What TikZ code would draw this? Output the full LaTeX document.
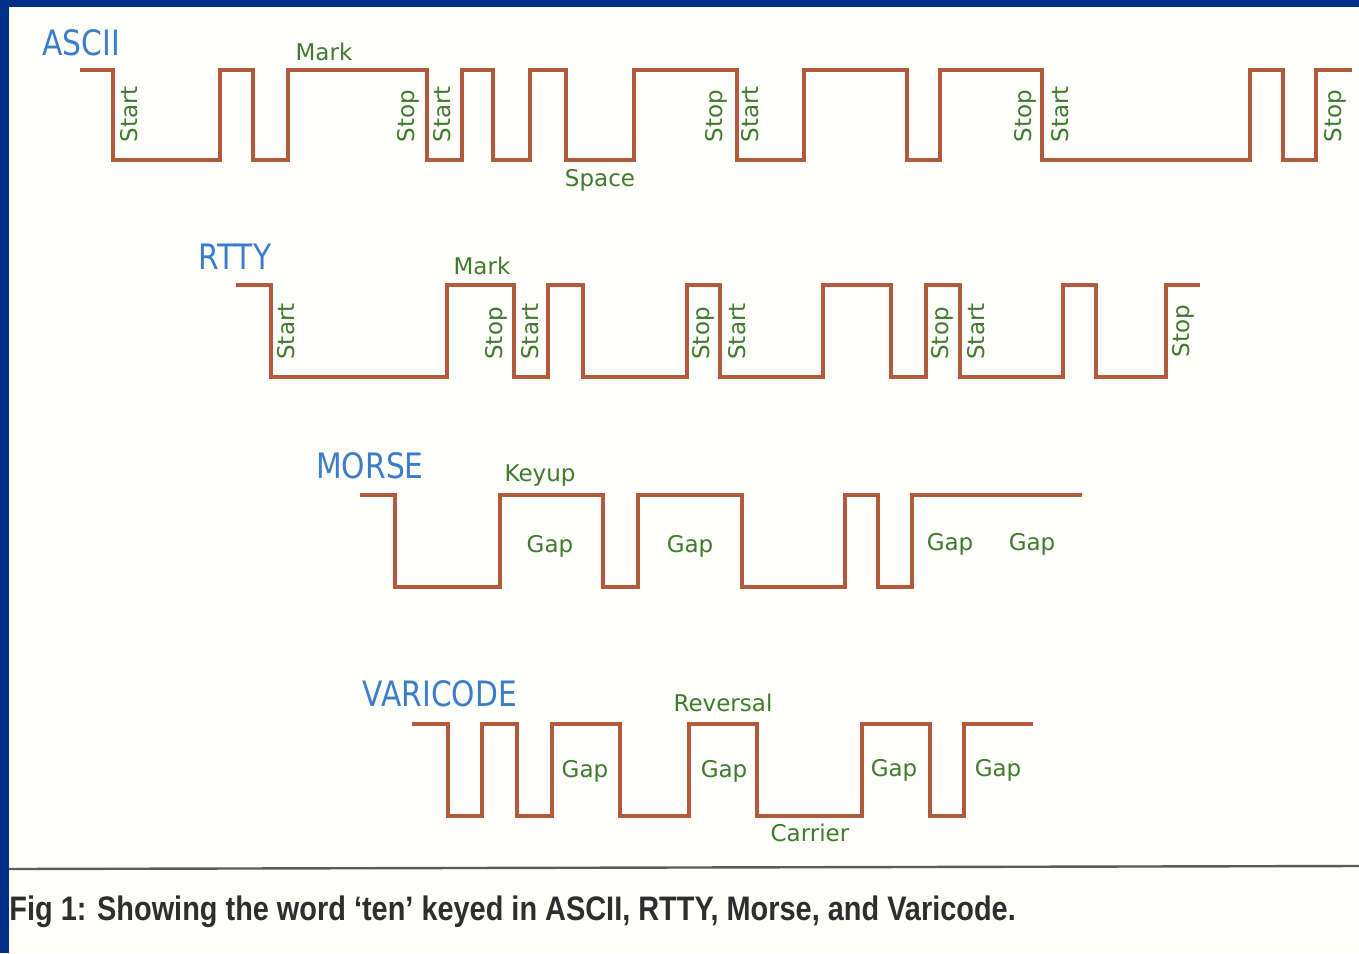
\documentclass[tikz,border=0pt]{standalone}
\usepackage{fontspec}
\setmainfont{DejaVu Sans}
\newfontfamily\titlefont[FakeStretch=0.85]{DejaVu Sans}
\newfontfamily\capfont[FakeStretch=0.85]{Liberation Sans}
\usepackage{xcolor}
\definecolor{Frame}{HTML}{00308A}
\definecolor{Paper}{HTML}{FEFEFB}
\definecolor{Wave}{HTML}{B35A3C}
\definecolor{Tag}{HTML}{3F7A2E}
\definecolor{Heading}{HTML}{3C7DC9}
\definecolor{Rule}{HTML}{5A5A5A}
\definecolor{Caption}{HTML}{2E2E2E}

\begin{document}
\begin{tikzpicture}[x=0.5pt,y=-0.5pt]
  \tikzset{
    wave/.style={Wave, line width=2pt, line join=miter},
    heading/.style={font=\titlefont\fontsize{17.5}{20}\selectfont, text=Heading, inner sep=0pt},
    tag/.style={font=\fontsize{11.5}{13}\selectfont, text=Tag, inner sep=0pt},
    uptag/.style={tag, rotate=90, anchor=west, text height=8.5pt, text depth=2.2pt},
    figcaption/.style={font=\capfont\bfseries\fontsize{17}{20}\selectfont, text=Caption, inner sep=0pt, anchor=west}
  }

  \useasboundingbox (0,0) rectangle (1359,953);
  \fill[Paper] (0,0) rectangle (1359,953);
  \fill[Frame] (0,0) rectangle (1359,7);
  \fill[Frame] (0,0) rectangle (9,953);

  \node[heading] (ascii) at (81,43) {ASCII};
  \draw[wave] (80,70) -| (113,160) -| (220,70) -| (253,160) -| (288,70) -| (427,160)
    -| (462,70) -| (493,160) -| (530,70) -| (566,160) -| (634,70) -| (737,160)
    -| (804,70) -| (907,160) -| (940,70) -| (1042,160) -| (1250,70) -| (1283,160)
    -| (1316,70) -- (1352,70);
  \node[tag] (asciimark) at (324,52) {Mark};
  \node[tag] (asciispace) at (600,180) {Space};
  \node[uptag] (asciistart1) at (131,143) {Start};
  \node[uptag] (asciistop1) at (408,143) {Stop};
  \node[uptag] (asciistart2) at (444,143) {Start};
  \node[uptag] (asciistop2) at (716,143) {Stop};
  \node[uptag] (asciistart3) at (752,143) {Start};
  \node[uptag] (asciistop3) at (1025,143) {Stop};
  \node[uptag] (asciistart4) at (1062,143) {Start};
  \node[uptag] (asciistop4) at (1335,143) {Stop};

  \node[heading] (rtty) at (235,257) {RTTY};
  \draw[wave] (236,285) -| (271,377) -| (447,285) -| (514,377) -| (548,285) -| (583,377)
    -| (687,285) -| (720,377) -| (823,285) -| (891,377) -| (926,285) -| (960,377)
    -| (1063,285) -| (1096,377) -| (1166,285) -- (1200,285);
  \node[tag] (rttymark) at (482,266) {Mark};
  \node[uptag] (rttystart1) at (288,360) {Start};
  \node[uptag] (rttystop1) at (496,360) {Stop};
  \node[uptag] (rttystart2) at (532,360) {Start};
  \node[uptag] (rttystop2) at (703,360) {Stop};
  \node[uptag] (rttystart3) at (739,360) {Start};
  \node[uptag] (rttystop3) at (942,360) {Stop};
  \node[uptag] (rttystart4) at (978,360) {Start};
  \node[uptag] (rttystop4) at (1183,358) {Stop};

  \node[heading] (morse) at (370,466) {MORSE};
  \draw[wave] (360,495) -| (395,587) -| (500,495) -| (603,587) -| (638,495) -| (742,587)
    -| (845,495) -| (878,587) -| (912,495) -- (1082,495);
  \node[tag] (morsekeyup) at (540,476) {Keyup};
  \node[tag] (morsegap1) at (550,546) {Gap};
  \node[tag] (morsegap2) at (690,546) {Gap};
  \node[tag] (morsegap3) at (950,544) {Gap};
  \node[tag] (morsegap4) at (1032,544) {Gap};

  \node[heading] (varicode) at (440,694) {VARICODE};
  \draw[wave] (412,724) -| (448,816) -| (482,724) -| (517,816) -| (552,724) -| (620,816)
    -| (689,724) -| (757,816) -| (862,724) -| (930,816) -| (964,724) -- (1033,724);
  \node[tag] (varireversal) at (723,703) {Reversal};
  \node[tag] (varicarrier) at (810,833) {Carrier};
  \node[tag] (varigap1) at (585,771) {Gap};
  \node[tag] (varigap2) at (724,771) {Gap};
  \node[tag] (varigap3) at (894,770) {Gap};
  \node[tag] (varigap4) at (998,770) {Gap};

  \draw[Rule, line width=1.2pt] (9,869) -- (1359,866);
  \node[figcaption] (caption) at (9,912) {Fig 1: Showing the word ‘ten’ keyed in ASCII, RTTY, Morse, and Varicode.};
\end{tikzpicture}
\end{document}
